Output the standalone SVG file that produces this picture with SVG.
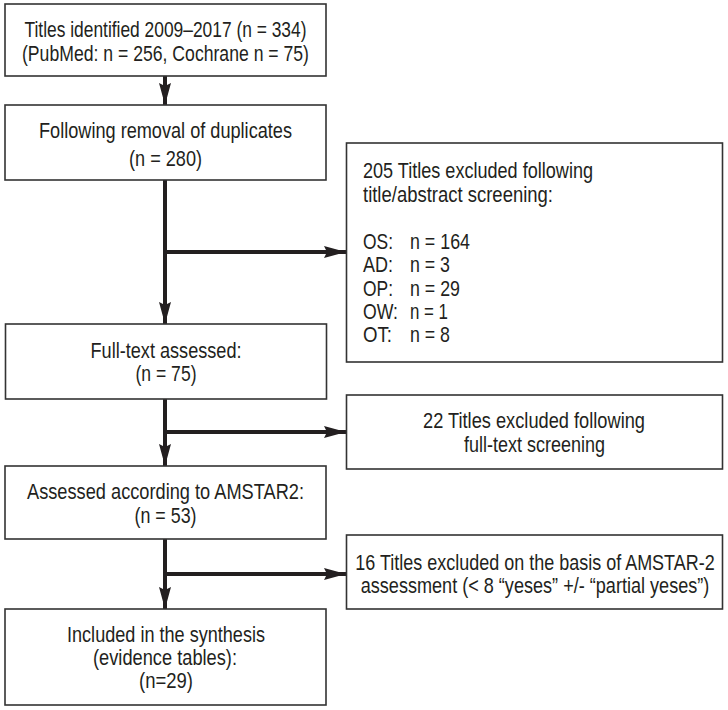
<svg xmlns="http://www.w3.org/2000/svg" width="728" height="710" viewBox="0 0 728 710">
<style>
.box{fill:#fff;stroke:#333;stroke-width:1.6}
.t{font-family:"Liberation Sans","Arial",sans-serif;font-size:21.5px;fill:#231f20}
.c{text-anchor:middle}
.ln{stroke:#231f20;stroke-width:4;fill:none}
</style>
<defs>
<marker id="ah" markerUnits="userSpaceOnUse" markerWidth="22" markerHeight="12" refX="22" refY="6" orient="auto">
<path d="M0,0 L22,6 L0,12 L3,6 z" fill="#231f20"/>
</marker>
</defs>
<rect width="728" height="710" fill="#fff"/>
<g id="connectors">
<path class="ln" d="M165,76 V105" marker-end="url(#ah)"/>
<path class="ln" d="M165,180 V324" marker-end="url(#ah)"/>
<path class="ln" d="M165,252 H346" marker-end="url(#ah)"/>
<path class="ln" d="M165,399 V466" marker-end="url(#ah)"/>
<path class="ln" d="M165,432 H346" marker-end="url(#ah)"/>
<path class="ln" d="M165,539 V609" marker-end="url(#ah)"/>
<path class="ln" d="M165,574 H346" marker-end="url(#ah)"/>
</g>
<g id="identified">
<rect class="box" x="5" y="4" width="321" height="72"/>
<text class="t c" x="165.5" y="37" textLength="282" lengthAdjust="spacingAndGlyphs">Titles identified 2009–2017 (n = 334)</text>
<text class="t c" x="165.5" y="61" textLength="287" lengthAdjust="spacingAndGlyphs">(PubMed: n = 256, Cochrane n = 75)</text>
</g>
<g id="duplicates">
<rect class="box" x="5" y="105" width="321" height="75"/>
<text class="t c" x="165.5" y="138" textLength="253" lengthAdjust="spacingAndGlyphs">Following removal of duplicates</text>
<text class="t c" x="165.5" y="166" textLength="73" lengthAdjust="spacingAndGlyphs">(n = 280)</text>
</g>
<g id="excluded1">
<rect class="box" x="346.5" y="143" width="376" height="219"/>
<text class="t" x="363" y="178" textLength="230" lengthAdjust="spacingAndGlyphs">205 Titles excluded following</text>
<text class="t" x="363" y="202" textLength="190" lengthAdjust="spacingAndGlyphs">title/abstract screening:</text>
<text class="t" x="363" y="249" textLength="30" lengthAdjust="spacingAndGlyphs">OS:</text>
<text class="t" x="410" y="249" textLength="60" lengthAdjust="spacingAndGlyphs">n = 164</text>
<text class="t" x="363" y="272" textLength="30" lengthAdjust="spacingAndGlyphs">AD:</text>
<text class="t" x="410" y="272" textLength="40" lengthAdjust="spacingAndGlyphs">n = 3</text>
<text class="t" x="363" y="296" textLength="30" lengthAdjust="spacingAndGlyphs">OP:</text>
<text class="t" x="410" y="296" textLength="50" lengthAdjust="spacingAndGlyphs">n = 29</text>
<text class="t" x="363" y="319" textLength="35" lengthAdjust="spacingAndGlyphs">OW:</text>
<text class="t" x="410" y="319" textLength="38" lengthAdjust="spacingAndGlyphs">n = 1</text>
<text class="t" x="363" y="342" textLength="29" lengthAdjust="spacingAndGlyphs">OT:</text>
<text class="t" x="410" y="342" textLength="40" lengthAdjust="spacingAndGlyphs">n = 8</text>
</g>
<g id="fulltext">
<rect class="box" x="5.5" y="324" width="321" height="75"/>
<text class="t c" x="166" y="358" textLength="151" lengthAdjust="spacingAndGlyphs">Full-text assessed:</text>
<text class="t c" x="166" y="381" textLength="61" lengthAdjust="spacingAndGlyphs">(n = 75)</text>
</g>
<g id="excluded2">
<rect class="box" x="346.5" y="395" width="376" height="74"/>
<text class="t c" x="534" y="428" textLength="222" lengthAdjust="spacingAndGlyphs">22 Titles excluded following</text>
<text class="t c" x="534.5" y="452" textLength="141" lengthAdjust="spacingAndGlyphs">full-text screening</text>
</g>
<g id="amstar">
<rect class="box" x="5" y="466" width="321" height="73"/>
<text class="t c" x="165.5" y="499" textLength="277" lengthAdjust="spacingAndGlyphs">Assessed according to AMSTAR2:</text>
<text class="t c" x="165.5" y="523" textLength="62" lengthAdjust="spacingAndGlyphs">(n = 53)</text>
</g>
<g id="excluded3">
<rect class="box" x="346.5" y="535" width="376" height="74"/>
<g transform="translate(535,0) scale(0.83,1)">
<text class="t c" x="0" y="570" textLength="433" lengthAdjust="spacingAndGlyphs">16 Titles excluded on the basis of AMSTAR-2</text>
<text class="t c" x="0" y="593" textLength="420" lengthAdjust="spacingAndGlyphs">assessment (&lt; 8 “yeses” +/- “partial yeses”)</text>
</g>
</g>
<g id="included">
<rect class="box" x="5" y="609" width="321" height="96"/>
<text class="t c" x="166" y="642" textLength="198" lengthAdjust="spacingAndGlyphs">Included in the synthesis</text>
<text class="t c" x="165" y="665" textLength="144" lengthAdjust="spacingAndGlyphs">(evidence tables):</text>
<text class="t c" x="166" y="688" textLength="54" lengthAdjust="spacingAndGlyphs">(n=29)</text>
</g>
</svg>
